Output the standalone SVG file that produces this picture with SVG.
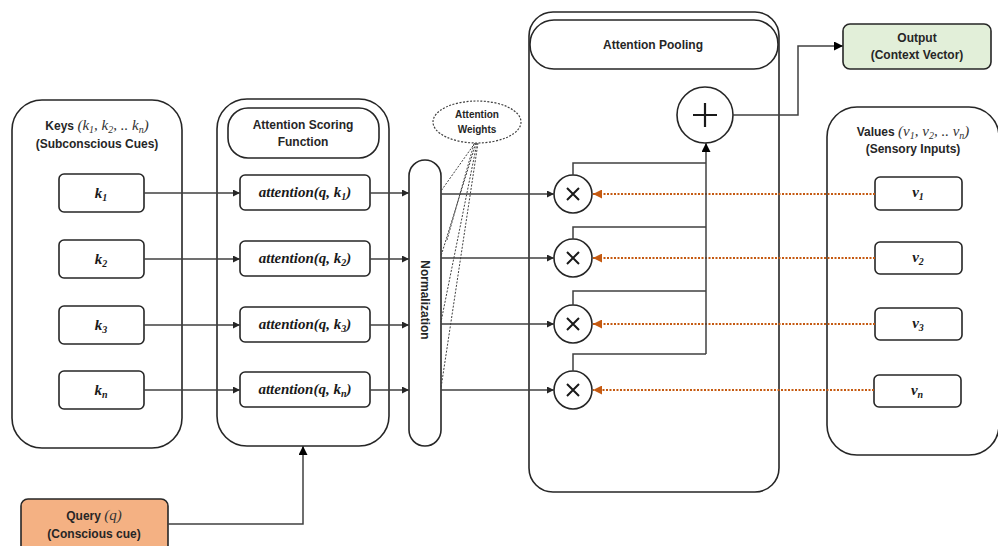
<svg xmlns="http://www.w3.org/2000/svg" width="998" height="546" viewBox="0 0 998 546">
<style>
.box{fill:#fff;stroke:#262626;stroke-width:1.6}
.lbl{font-family:"Liberation Sans",Arial,sans-serif;font-weight:bold;font-size:12px;fill:#262626;text-anchor:middle}
.m{font-family:"Liberation Serif","Times New Roman",serif;font-style:italic;font-weight:normal;fill:#333}
.mb{font-family:"Liberation Serif","Times New Roman",serif;font-style:italic;font-weight:bold;font-size:15px;fill:#1a1a1a;text-anchor:middle}
.ln{fill:none;stroke:#404040;stroke-width:1.5}
.dot{fill:none;stroke:#404040;stroke-width:1;stroke-dasharray:2 1.5}
.or{fill:none;stroke:#c55a11;stroke-width:2;stroke-dasharray:2 1.5}
.op{font-family:"DejaVu Sans",sans-serif;font-size:22px;fill:#1a1a1a;text-anchor:middle}
</style>
<defs>
<marker id="ah" viewBox="0 0 10 10" refX="10" refY="5" markerWidth="7" markerHeight="7" markerUnits="userSpaceOnUse" orient="auto"><path d="M0,0 L10,5 L0,10 z" fill="#262626"/></marker>
<marker id="ah2" viewBox="0 0 10 10" refX="10" refY="5" markerWidth="9" markerHeight="9" markerUnits="userSpaceOnUse" orient="auto"><path d="M0,0 L10,5 L0,10 z" fill="#000"/></marker>
<marker id="ao" viewBox="0 0 10 10" refX="10" refY="5" markerWidth="9" markerHeight="9" markerUnits="userSpaceOnUse" orient="auto"><path d="M0,0 L10,5 L0,10 z" fill="#c55a11"/></marker>
</defs>

<g id="keys">
<rect class="box" x="12" y="100" width="170" height="348" rx="30"/>
<text class="lbl" x="97" y="130">Keys <tspan class="m" font-size="15">(k<tspan font-size="10" dy="3">1</tspan><tspan dy="-3">, k</tspan><tspan font-size="10" dy="3">2</tspan><tspan dy="-3">, .. k</tspan><tspan font-size="10" dy="3">n</tspan><tspan dy="-3">)</tspan></tspan></text>
<text class="lbl" x="97" y="148">(Subconscious Cues)</text>
</g>
<g id="k1"><rect class="box" x="59" y="174" width="85" height="38" rx="5"/><text class="mb" x="101" y="198">k<tspan font-size="10" dy="3">1</tspan></text></g>
<g id="k2"><rect class="box" x="59" y="240" width="85" height="38" rx="5"/><text class="mb" x="101" y="264">k<tspan font-size="10" dy="3">2</tspan></text></g>
<g id="k3"><rect class="box" x="59" y="306" width="85" height="38" rx="5"/><text class="mb" x="101" y="330">k<tspan font-size="10" dy="3">3</tspan></text></g>
<g id="kn"><rect class="box" x="59" y="371" width="85" height="38" rx="5"/><text class="mb" x="101" y="395">k<tspan font-size="10" dy="3">n</tspan></text></g>

<g id="scoring">
<rect class="box" x="217" y="99" width="172" height="347" rx="30"/>
<rect class="box" x="228" y="108" width="151" height="50" rx="20"/>
<text class="lbl" x="303" y="129">Attention Scoring</text>
<text class="lbl" x="303" y="146">Function</text>
</g>
<g id="a1"><rect class="box" x="240" y="175" width="130" height="35" rx="5"/><text class="mb" x="305" y="197">attention(q, k<tspan font-size="10" dy="3">1</tspan><tspan dy="-3">)</tspan></text></g>
<g id="a2"><rect class="box" x="240" y="241" width="130" height="35" rx="5"/><text class="mb" x="305" y="263">attention(q, k<tspan font-size="10" dy="3">2</tspan><tspan dy="-3">)</tspan></text></g>
<g id="a3"><rect class="box" x="240" y="307" width="130" height="35" rx="5"/><text class="mb" x="305" y="329">attention(q, k<tspan font-size="10" dy="3">3</tspan><tspan dy="-3">)</tspan></text></g>
<g id="an"><rect class="box" x="240" y="372" width="130" height="35" rx="5"/><text class="mb" x="305" y="394">attention(q, k<tspan font-size="10" dy="3">n</tspan><tspan dy="-3">)</tspan></text></g>

<g id="normalization">
<rect class="box" x="409" y="160" width="32" height="286" rx="16"/>
<text class="lbl" transform="translate(421,300) rotate(90)">Normalization</text>
</g>

<g id="weights">
<ellipse cx="477" cy="122" rx="44" ry="21" fill="#fff" stroke="#404040" stroke-width="1.2" stroke-dasharray="2 1.5"/>
<text class="lbl" x="477" y="118" style="font-size:10px">Attention</text>
<text class="lbl" x="477" y="133" style="font-size:10px">Weights</text>
</g>

<g id="pooling">
<rect class="box" x="529" y="12" width="250" height="480" rx="24"/>
<rect class="box" x="530" y="20" width="248" height="49" rx="24"/>
<text class="lbl" x="653" y="49">Attention Pooling</text>
</g>
<g id="plus"><circle class="box" cx="705" cy="115" r="28"/><path d="M693,115 H717 M705,103 V127" stroke="#1a1a1a" stroke-width="2.2"/></g>
<g id="x1"><circle class="box" cx="573" cy="194" r="19"/><path d="M567,188 L579,200 M579,188 L567,200" stroke="#1a1a1a" stroke-width="2"/></g>
<g id="x2"><circle class="box" cx="573" cy="258" r="19"/><path d="M567,252 L579,264 M579,252 L567,264" stroke="#1a1a1a" stroke-width="2"/></g>
<g id="x3"><circle class="box" cx="573" cy="324" r="19"/><path d="M567,318 L579,330 M579,318 L567,330" stroke="#1a1a1a" stroke-width="2"/></g>
<g id="xn"><circle class="box" cx="573" cy="390" r="19"/><path d="M567,384 L579,396 M579,384 L567,396" stroke="#1a1a1a" stroke-width="2"/></g>

<g id="output">
<rect x="843" y="24" width="148" height="45" rx="7" fill="#e2efd9" stroke="#262626" stroke-width="1.6"/>
<text class="lbl" x="917" y="42">Output</text>
<text class="lbl" x="917" y="59">(Context Vector)</text>
</g>

<g id="values">
<rect class="box" x="827" y="107" width="172" height="348" rx="30"/>
<text class="lbl" x="913" y="136">Values <tspan class="m" font-size="15">(v<tspan font-size="10" dy="3">1</tspan><tspan dy="-3">, v</tspan><tspan font-size="10" dy="3">2</tspan><tspan dy="-3">, .. v</tspan><tspan font-size="10" dy="3">n</tspan><tspan dy="-3">)</tspan></tspan></text>
<text class="lbl" x="913" y="153">(Sensory Inputs)</text>
</g>
<g id="v1"><rect class="box" x="875" y="177" width="87" height="33" rx="5"/><text class="mb" x="918" y="197">v<tspan font-size="10" dy="3">1</tspan></text></g>
<g id="v2"><rect class="box" x="875" y="242" width="87" height="32" rx="5"/><text class="mb" x="918" y="262">v<tspan font-size="10" dy="3">2</tspan></text></g>
<g id="v3"><rect class="box" x="875" y="308" width="87" height="32" rx="5"/><text class="mb" x="918" y="328">v<tspan font-size="10" dy="3">3</tspan></text></g>
<g id="vn"><rect class="box" x="874" y="375" width="87" height="32" rx="5"/><text class="mb" x="917" y="395">v<tspan font-size="10" dy="3">n</tspan></text></g>

<g id="query">
<rect x="21" y="499" width="147" height="60" rx="7" fill="#f4b183" stroke="#262626" stroke-width="1.6"/>
<text class="lbl" x="94" y="520">Query <tspan class="m" font-size="15">(q)</tspan></text>
<text class="lbl" x="94" y="538">(Conscious cue)</text>
</g>

<g id="connectors">
<path class="ln" d="M144,193 H240" marker-end="url(#ah)"/>
<path class="ln" d="M144,259 H240" marker-end="url(#ah)"/>
<path class="ln" d="M144,325 H240" marker-end="url(#ah)"/>
<path class="ln" d="M144,390 H240" marker-end="url(#ah)"/>
<path class="ln" d="M370,193 H409" marker-end="url(#ah)"/>
<path class="ln" d="M370,259 H409" marker-end="url(#ah)"/>
<path class="ln" d="M370,325 H409" marker-end="url(#ah)"/>
<path class="ln" d="M370,390 H409" marker-end="url(#ah)"/>
<path class="ln" d="M441,194 H554" marker-end="url(#ah)"/>
<path class="ln" d="M441,258 H554" marker-end="url(#ah)"/>
<path class="ln" d="M441,324 H554" marker-end="url(#ah)"/>
<path class="ln" d="M441,390 H554" marker-end="url(#ah)"/>
<path class="dot" d="M475,143 L441,191"/>
<path class="dot" d="M476,143 L441,256"/>
<path class="dot" d="M477,143 L441,322"/>
<path class="dot" d="M478,143 L441,388"/>
<path class="dot" d="M474,144 L447,240"/>
<path class="or" d="M875,194 H593" marker-end="url(#ao)"/>
<path class="or" d="M875,258 H593" marker-end="url(#ao)"/>
<path class="or" d="M875,324 H593" marker-end="url(#ao)"/>
<path class="or" d="M874,390 H593" marker-end="url(#ao)"/>
<path class="ln" d="M573,175 V163 H706"/>
<path class="ln" d="M573,239 V227 H706"/>
<path class="ln" d="M573,305 V291 H706"/>
<path class="ln" d="M573,371 V354 H706"/>
<path class="ln" d="M706,354 V143" stroke-width="1.8" marker-end="url(#ah2)"/>
<path class="ln" d="M733,115 H798 V46 H843" marker-end="url(#ah2)"/>
<path class="ln" d="M168,524 H303 V446" marker-end="url(#ah2)"/>
</g>
</svg>
